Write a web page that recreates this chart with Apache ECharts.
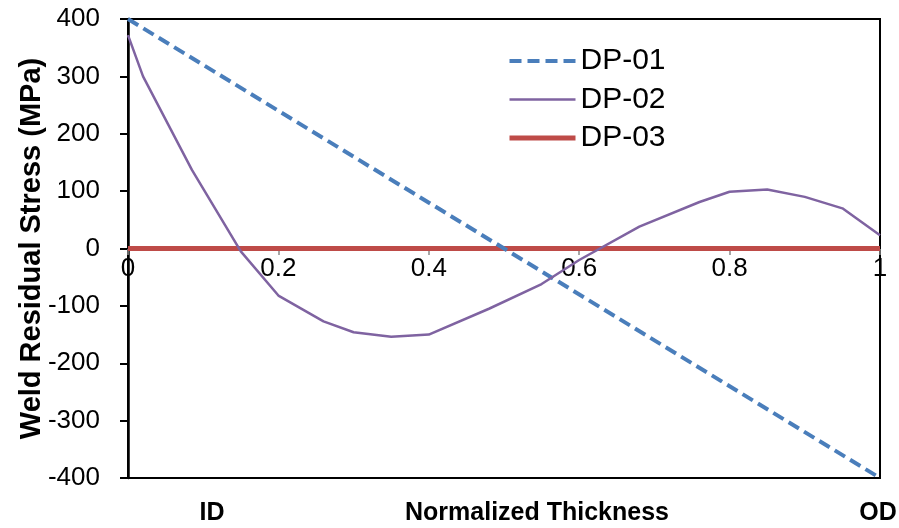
<!DOCTYPE html>
<html>
<head>
<meta charset="utf-8">
<script src="https://cdn.jsdelivr.net/npm/echarts@6/dist/echarts.min.js"></script>
<style>
html,body{margin:0;padding:0;background:#fff;}
#chart{width:899px;height:528px;}
</style>
</head>
<body>
<div id="chart"></div>
<script>
var seriesNames = ['DP-01', 'DP-02', 'DP-03'];
var dp01 = [[0, 400], [1, -400]];
var dp02 = [[0, 372], [0.02, 300], [0.085, 137], [0.15, -5], [0.2, -82], [0.26, -127],
            [0.3, -146], [0.35, -154], [0.4, -150], [0.48, -105], [0.55, -62], [0.6, -20],
            [0.68, 38], [0.76, 81], [0.8, 99], [0.85, 103], [0.9, 90], [0.95, 70], [1.0, 23]];
var dp03 = [[0, 0], [1, 0]];
var xTicks = [0, 0.2, 0.4, 0.6, 0.8, 1];
var yTicks = [-400, -300, -200, -100, 0, 100, 200, 300, 400];
var yTitle = 'Weld Residual Stress (MPa)';
var xTitle = 'Normalized Thickness';
var leftLabel = 'ID';
var rightLabel = 'OD';

var FONT = 'Liberation Sans';
var colors = ['#4a7ebb', '#7f63a1', '#be4b48'];
var widths = [4, 2.5, 5];
var dashes = [[12, 6], 'solid', 'solid'];

var chart = echarts.init(document.getElementById('chart'), null, {renderer: 'canvas'});
chart.setOption({
  animation: false,
  backgroundColor: '#fff',
  grid: {left: 128, right: 19, top: 19, bottom: 50, show: true, borderColor: '#000', borderWidth: 2, containLabel: false, outerBoundsMode: 'none'},
  legend: {
    orient: 'vertical', left: 502, top: 41, itemWidth: 66, itemHeight: 14, itemGap: 8.5,
    itemStyle: {color: 'transparent', borderWidth: 0, opacity: 0},
    data: seriesNames.map(function (n, i) {
      return {name: n, lineStyle: {color: colors[i], width: widths[i], type: dashes[i], opacity: 1}};
    }),
    textStyle: {fontFamily: FONT, fontSize: 30, color: '#000', lineHeight: 30}
  },
  xAxis: {
    type: 'value', min: xTicks[0], max: xTicks[xTicks.length - 1], interval: 0.2,
    position: 'bottom', offset: -229,
    axisLine: {onZero: false, lineStyle: {color: '#888', width: 1}},
    axisTick: {show: true, length: 6, lineStyle: {color: '#888', width: 1.5}},
    axisLabel: {margin: 7, fontFamily: FONT, fontSize: 26, color: '#000',
      formatter: function (v) { return String(Math.round(v * 10) / 10); }},
    splitLine: {show: false}
  },
  yAxis: {
    type: 'value', min: yTicks[0], max: yTicks[yTicks.length - 1], interval: 100,
    axisLine: {show: true, lineStyle: {color: '#000', width: 2.5}},
    axisTick: {show: true, inside: false, length: 8, lineStyle: {color: '#000', width: 2}},
    axisLabel: {margin: 28, fontFamily: FONT, fontSize: 26, color: '#000'},
    splitLine: {show: false},
    name: yTitle, nameLocation: 'middle', nameGap: 82, nameMoveOverlap: false,
    nameTextStyle: {fontFamily: FONT, fontSize: 29, fontWeight: 'bold', color: '#000'}
  },
  graphic: [
    {type: 'text', x: 212, y: 513, style: {text: leftLabel, font: 'bold 25px "Liberation Sans"', fill: '#000', align: 'center', verticalAlign: 'middle'}},
    {type: 'text', x: 537, y: 513, style: {text: xTitle, font: 'bold 25px "Liberation Sans"', fill: '#000', align: 'center', verticalAlign: 'middle'}},
    {type: 'text', x: 878, y: 513, style: {text: rightLabel, font: 'bold 25px "Liberation Sans"', fill: '#000', align: 'center', verticalAlign: 'middle'}}
  ],
  series: [
    {name: seriesNames[0], type: 'line', data: dp01, symbol: 'none', z: 3,
     lineStyle: {color: colors[0], width: widths[0], type: dashes[0]}, itemStyle: {color: colors[0]}},
    {name: seriesNames[1], type: 'line', data: dp02, symbol: 'none', z: 4,
     lineStyle: {color: colors[1], width: widths[1]}, itemStyle: {color: colors[1]}},
    {name: seriesNames[2], type: 'line', data: dp03, symbol: 'none', z: 2,
     lineStyle: {color: colors[2], width: widths[2]}, itemStyle: {color: colors[2]}}
  ]
});
</script>
</body>
</html>
